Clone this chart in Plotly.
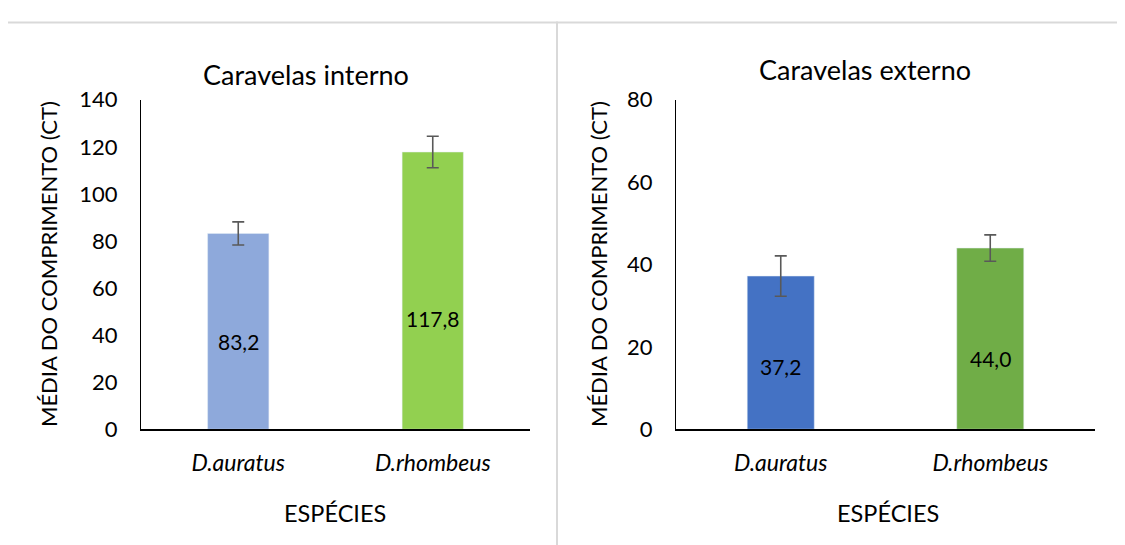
import plotly.graph_objects as go

categories = ["D.auratus", "D.rhombeus"]
interno_vals = [83.2, 117.8]
interno_err = [4.9, 6.7]
externo_vals = [37.2, 44.0]
externo_err = [4.9, 3.2]
interno_labels = ["83,2", "117,8"]
externo_labels = ["37,2", "44,0"]
interno_colors = ["#8EA9DB", "#92D050"]
externo_colors = ["#4472C4", "#70AD47"]

# relative height (fraction of the bar) where each value label sits
interno_label_frac = [0.45, 0.40]
externo_label_frac = [0.41, 0.39]

W, H = 1125, 545
FONT = "Lato"

# map target screen pixels to paper fractions (page offset / scale as observed)
def px(x):
    return (x - 8) / W

def py(y):
    return 1 - ((y - 20.4) / 0.9606) / H

fig = go.Figure()

cat_labels = [f"<i>{c}</i>" for c in categories]

fig.add_trace(go.Bar(
    x=cat_labels, y=interno_vals, marker_color=interno_colors, width=0.315,
    error_y=dict(type="data", array=interno_err, color="#595959", thickness=1.6, width=6),
    xaxis="x", yaxis="y", showlegend=False,
))
fig.add_trace(go.Bar(
    x=cat_labels, y=externo_vals, marker_color=externo_colors, width=0.32,
    error_y=dict(type="data", array=externo_err, color="#595959", thickness=1.6, width=6),
    xaxis="x2", yaxis="y2", showlegend=False,
))

def ann(x, y, text, size, xref="paper", yref="paper", angle=0):
    return dict(x=x, y=y, xref=xref, yref=yref, text=text, showarrow=False, textangle=angle,
                xanchor="center", yanchor="middle",
                font=dict(family=FONT, size=size, color="#000000"))

annotations = []
for c, v, t, f in zip(cat_labels, interno_vals, interno_labels, interno_label_frac):
    annotations.append(ann(c, v * f, t, 21, "x", "y"))
for c, v, t, f in zip(cat_labels, externo_vals, externo_labels, externo_label_frac):
    annotations.append(ann(c, v * f, t, 21, "x2", "y2"))

annotations += [
    ann(px(306), py(73), "Caravelas interno", 27),
    ann(px(865), py(68), "Caravelas externo", 27),
    ann(px(48), py(265), "MÉDIA DO COMPRIMENTO (CT)", 22, angle=-90),
    ann(px(598), py(265), "MÉDIA DO COMPRIMENTO (CT)", 22, angle=-90),
    ann(px(335), py(517), "ESPÉCIES", 23.5),
    ann(px(888), py(517), "ESPÉCIES", 23.5),
]

shapes = [
    dict(type="rect", xref="paper", yref="paper", x0=px(3), x1=px(557), y0=-0.05, y1=0.999,
         line=dict(color="#D9D9D9", width=2), fillcolor="rgba(0,0,0,0)", layer="below"),
    dict(type="rect", xref="paper", yref="paper", x0=px(557), x1=1.05, y0=-0.05, y1=0.999,
         line=dict(color="#D9D9D9", width=2), fillcolor="rgba(0,0,0,0)", layer="below"),
]

ytickfont = dict(family=FONT, size=22, color="#000000")
xtickfont = dict(family=FONT, size=23, color="#000000")

fig.update_layout(
    width=W, height=H,
    margin=dict(l=0, r=0, t=0, b=0),
    paper_bgcolor="white", plot_bgcolor="white",
    xaxis=dict(domain=[px(141), px(530)], anchor="y", range=[-0.5, 1.5], showline=True,
               linecolor="#000000", linewidth=2, ticks="", tickfont=xtickfont,
               ticklabelstandoff=12, showgrid=False),
    yaxis=dict(domain=[py(432), py(99)], anchor="x", range=[0, 140], dtick=20, showline=True,
               linecolor="#000000", linewidth=1.2, ticks="", tickfont=ytickfont,
               ticklabelstandoff=18, showgrid=False, zeroline=False),
    xaxis2=dict(domain=[px(676), px(1095)], anchor="y2", range=[-0.5, 1.5], showline=True,
                linecolor="#000000", linewidth=2, ticks="", tickfont=xtickfont,
                ticklabelstandoff=12, showgrid=False),
    yaxis2=dict(domain=[py(432), py(99)], anchor="x2", range=[0, 80], dtick=20, showline=True,
                linecolor="#000000", linewidth=1.2, ticks="", tickfont=ytickfont,
                ticklabelstandoff=18, showgrid=False, zeroline=False),
    annotations=annotations,
    shapes=shapes,
)

fig.write_html("out.html")
